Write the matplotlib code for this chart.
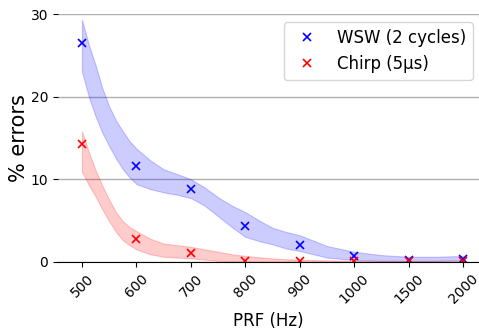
import numpy as np
import matplotlib.pyplot as plt

# Datos
prf = ["500", "600", "700", "800", "900", "1000", "1500", "2000"]
wsw = [26.5, 11.6, 8.8, 4.3, 2.0, 0.7, 0.25, 0.35]
chirp = [14.2, 2.8, 1.0, 0.1, 0.05, 0.05, 0.05, 0.05]

# Bandas (posición en el eje categórico, límite inferior y superior)
band_x = [0, 0.125, 0.25, 0.375, 0.5, 0.625, 0.75, 0.875, 1, 1.25, 1.5, 1.75, 2,
          2.25, 2.5, 2.75, 3, 3.25, 3.5, 3.75, 4, 4.5, 5, 5.5, 6, 6.5, 7]
wsw_hi = [29.3, 26.3, 23.8, 21.0, 18.8, 17.1, 15.8, 14.6, 13.7, 12.3, 11.2, 10.6, 10.0,
          9.0, 7.8, 6.8, 6.0, 5.0, 4.1, 3.6, 3.2, 1.9, 1.2, 0.8, 0.6, 0.6, 0.7]
wsw_lo = [23.0, 20.0, 17.6, 15.6, 14.0, 12.5, 11.2, 10.2, 9.4, 8.8, 8.4, 8.1, 7.7,
          6.8, 5.5, 4.2, 3.0, 2.5, 2.1, 1.6, 1.3, 0.5, 0.2, 0.1, 0.1, 0.1, 0.2]
chirp_hi = [15.8, 13.3, 11.1, 9.2, 7.5, 6.0, 4.9, 4.2, 3.7, 2.8, 2.2, 2.0, 1.8,
            1.5, 1.2, 0.9, 0.7, 0.55, 0.4, 0.3, 0.25, 0.15, 0.1, 0.1, 0.1, 0.1, 0.1]
chirp_lo = [10.9, 9.3, 7.9, 6.3, 4.9, 3.6, 2.6, 2.0, 1.5, 0.9, 0.6, 0.5, 0.4,
            0.25, 0.1, 0.05, 0, 0, 0, 0, 0, 0, 0, 0, 0, 0, 0]

x = np.arange(len(prf))

fig = plt.figure(figsize=(4.79, 3.33), dpi=100)
ax = fig.add_axes([58 / 479, 71.3 / 333, 1 - 58 / 479, 247.7 / 333])

ax.fill_between(band_x, wsw_lo, wsw_hi, color="blue", alpha=0.2, lw=0.8)
ax.fill_between(band_x, chirp_lo, chirp_hi, color="red", alpha=0.2, lw=0.8)
ax.plot(x, wsw, "x", color="blue", ms=6, mew=1.2, label="WSW (2 cycles)")
ax.plot(x, chirp, "x", color="red", ms=6, mew=1.2, label="Chirp (5µs)")

ax.set_xlim(-0.44, 7.29)
ax.set_ylim(0, 30)
ax.set_yticks([0, 10, 20, 30])
ax.set_xticks(x)
ax.set_xticklabels(prf, rotation=45, fontsize=10)
ax.tick_params(axis="y", labelsize=10)
ax.grid(axis="y", color="#b0b0b0", lw=1)
ax.set_axisbelow(True)
for s in ["top", "right", "left"]:
    ax.spines[s].set_visible(False)

ax.set_xlabel("PRF (Hz)", fontsize=12)
ax.set_ylabel("% errors", fontsize=15, labelpad=1)
ax.legend(fontsize=12, loc="upper right", bbox_to_anchor=(1.005, 1.0))

fig.savefig("out.png", dpi=100)
